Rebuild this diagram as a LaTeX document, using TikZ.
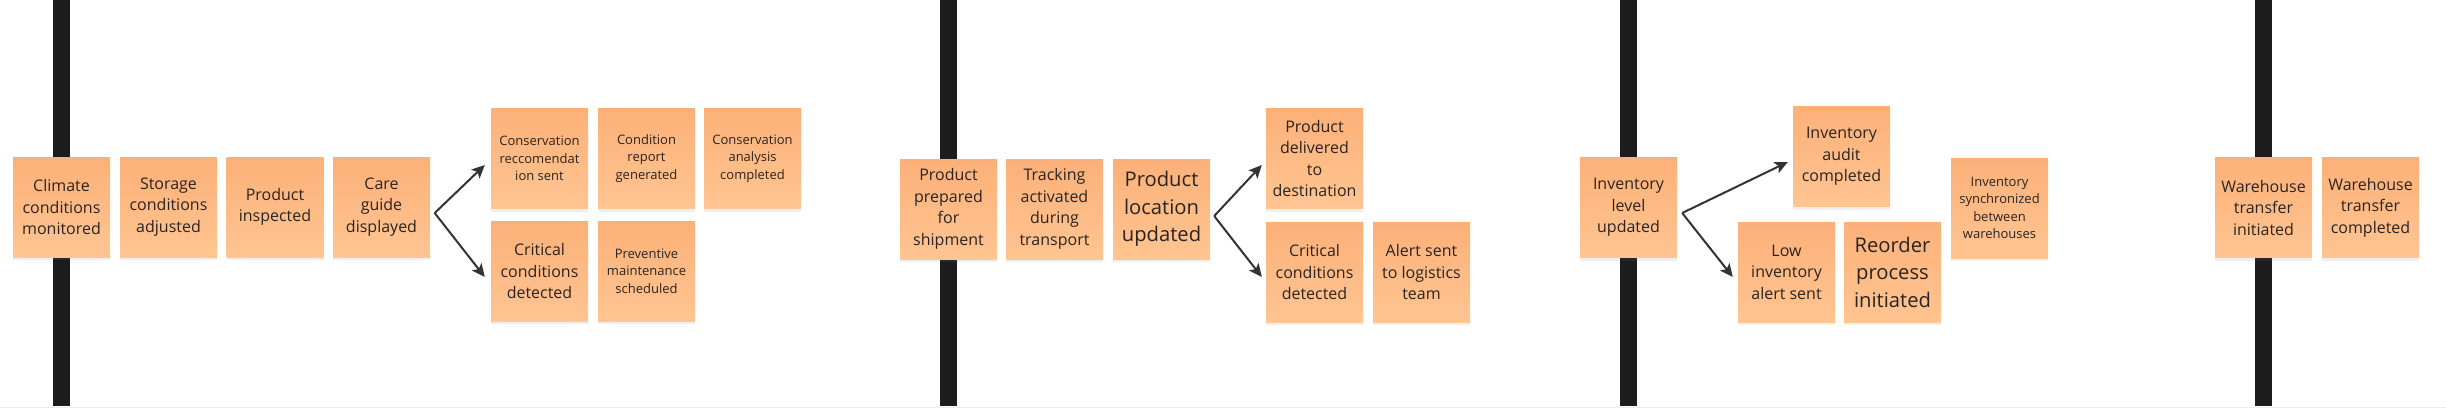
\documentclass[tikz,border=0pt]{standalone}
\usepackage{fontspec}
\setmainfont{Open Sans}
\usetikzlibrary{shadows,arrows.meta,calc}
\definecolor{stickytop}{RGB}{252,176,120}
\definecolor{stickybot}{RGB}{255,197,146}
\definecolor{ink}{RGB}{42,36,33}
\definecolor{barcol}{RGB}{28,28,28}
\definecolor{arrowcol}{RGB}{51,51,51}
\definecolor{edgegray}{RGB}{238,238,238}
\begin{document}
\begin{tikzpicture}[x=1pt,y=-1pt,
  sticky/.style={rectangle, minimum width=97pt, minimum height=100pt, inner sep=0pt,
    top color=stickytop, bottom color=stickybot, text=ink, align=center,
    font=\fontsize{16}{21.5}\selectfont,
    drop shadow={opacity=0.12, shadow xshift=0pt, shadow yshift=-3pt}},
  smalltxt/.style={font=\fontsize{13}{17.5}\selectfont},
  bigtxt/.style={font=\fontsize{20.2}{27.5}\selectfont},
  timeline/.style={draw=barcol, line width=17pt},
  flow/.style={draw=arrowcol, line width=2pt, -{Stealth[length=13pt,width=12pt,inset=3pt]}}]
\useasboundingbox (0,0) rectangle (2446,408);
\fill[white] (0,0) rectangle (2446,408);
\draw[edgegray, line width=1.5pt] (0,407.25) -- (2446,407.25);
% timelines
\coordinate (t1a) at (61.5,0);   \coordinate (t1b) at (61.5,406);
\coordinate (t2a) at (948,0);    \coordinate (t2b) at (948,406);
\coordinate (t3a) at (1628.5,0); \coordinate (t3b) at (1628.5,406);
\coordinate (t4a) at (2263.5,0); \coordinate (t4b) at (2263.5,406);
\draw[timeline] (t1a) -- (t1b);
\draw[timeline] (t2a) -- (t2b);
\draw[timeline] (t3a) -- (t3b);
\draw[timeline] (t4a) -- (t4b);
% section 1
\node[sticky] (climate) at (61.5,207) {Climate\\conditions\\monitored};
\node[sticky] (storage) at (168.5,207) {Storage\\conditions\\adjusted};
\node[sticky] (inspect) at (275,207) {Product\\inspected};
\node[sticky] (care) at (381.5,207) {Care\\guide\\displayed};
\node[sticky, smalltxt] (consrec) at (539.5,158.5) {Conservation\\reccomendat\\ion sent};
\node[sticky, smalltxt] (condrep) at (646.5,158.5) {Condition\\report\\generated};
\node[sticky, smalltxt] (consana) at (752.5,158.5) {Conservation\\analysis\\completed};
\node[sticky] (critA) at (539.5,271) {Critical\\conditions\\detected};
\node[sticky, smalltxt] (prevent) at (646.5,271) {Preventive\\maintenance\\scheduled};
% section 2
\node[sticky] (prepared) at (948.5,209) {Product\\prepared\\for\\shipment};
\node[sticky] (tracking) at (1054.5,209) {Tracking\\activated\\during\\transport};
\node[sticky, bigtxt] (location) at (1161.5,209) {Product\\location\\updated};
\node[sticky] (delivered) at (1314.5,158.5) {Product\\delivered\\to\\destination};
\node[sticky] (critB) at (1314.5,272) {Critical\\conditions\\detected};
\node[sticky] (alert) at (1421.5,272) {Alert sent\\to logistics\\team};
% section 3
\node[sticky] (level) at (1628.5,207.5) {Inventory\\level\\updated};
\node[sticky] (audit) at (1841.5,156.5) {Inventory\\audit\\completed};
\node[sticky] (low) at (1786.5,272) {Low\\inventory\\alert sent};
\node[sticky, bigtxt] (reorder) at (1892.5,272) {Reorder\\process\\initiated};
\node[sticky, smalltxt] (sync) at (1999.5,208) {Inventory\\synchronized\\between\\warehouses};
% section 4
\node[sticky] (winit) at (2263.5,207.5) {Warehouse\\transfer\\initiated};
\node[sticky] (wdone) at (2370.5,207.5) {Warehouse\\transfer\\completed};
% connectors
\draw[flow] ($(care.east)+(4.5,6)$) -- ($(consrec.west)+(-6,6.5)$);
\draw[flow] ($(care.east)+(4.5,6)$) -- ($(critA.west)+(-6,6)$);
\draw[flow] ($(location.east)+(4,7)$) -- ($(delivered.west)+(-4,6.5)$);
\draw[flow] ($(location.east)+(4,7)$) -- ($(critB.west)+(-4,5)$);
\draw[flow] ($(level.east)+(5,5.5)$) -- ($(audit.west)+(-5,5.5)$);
\draw[flow] ($(level.east)+(5,5.5)$) -- ($(low.west)+(-5,5)$);
\end{tikzpicture}
\end{document}
